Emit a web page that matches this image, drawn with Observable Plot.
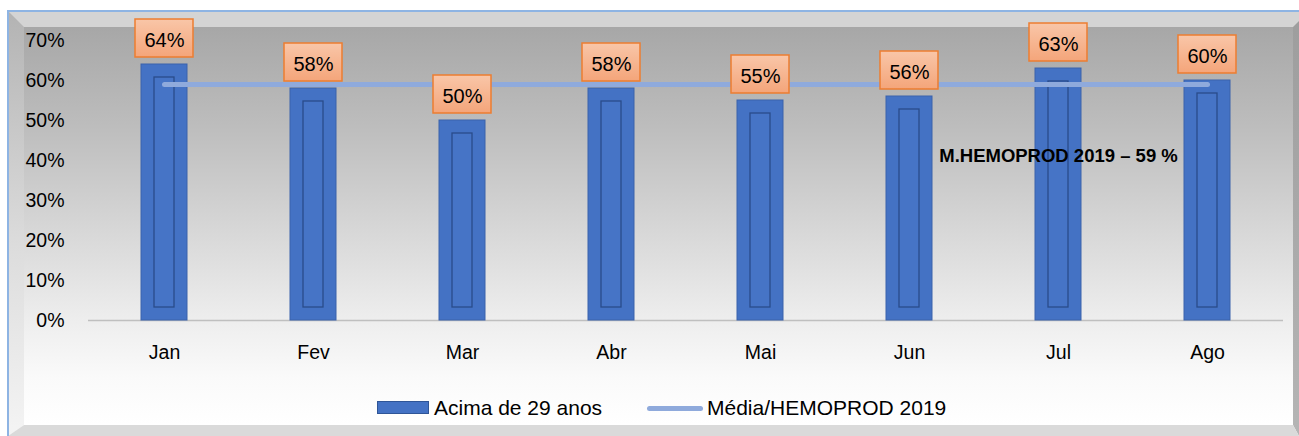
<!DOCTYPE html>
<html>
<head>
<meta charset="utf-8">
<script src="https://cdn.jsdelivr.net/npm/d3@7"></script>
<script src="https://cdn.jsdelivr.net/npm/@observablehq/plot@0.6"></script>
<style>
  html, body { margin: 0; padding: 0; background: #fff; }
  #wrap { position: relative; width: 1299px; height: 436px; overflow: hidden; background: #fff; font-family: "Liberation Sans", Arial, sans-serif; }
  .piece { position: absolute; }
  #chart { position: absolute; left: 0; top: 0; }
  .leg { position: absolute; font-size: 21px; line-height: 24px; color: #000; white-space: nowrap; }
</style>
</head>
<body>
<div id="wrap">
  <!-- decorative 3D walls -->
  <div class="piece" style="left:8px;top:11px;width:1291px;height:16px;background:#d4d4d4;"></div>
  <div class="piece" style="left:24px;top:27px;width:1269px;height:398px;background:linear-gradient(to bottom,#a7a7a7 0%,#bdbdbd 25%,#d6d6d6 50%,#ececec 72%,#fafafa 88%,#ffffff 100%);"></div>
  <div class="piece" style="left:8px;top:11px;width:16px;height:425px;background:linear-gradient(to bottom,#b3b3b3,#dcdcdc 55%,#f4f4f4);clip-path:polygon(0 0,100% 16px,100% 414px,0 100%);"></div>
  <div class="piece" style="left:1293px;top:11px;width:6px;height:425px;background:linear-gradient(to bottom,#9d9d9d,#b5b5b5);clip-path:polygon(0 16px,100% 10px,100% 100%,0 414px);"></div>
  <div class="piece" style="left:8px;top:425px;width:1291px;height:11px;background:#dadada;clip-path:polygon(16px 0,1285px 0,100% 100%,0 100%);"></div>
  <div class="piece" style="left:7px;top:10px;width:1.5px;height:426px;background:#8eb4e3;"></div>
  <div class="piece" style="left:7px;top:10px;width:1292px;height:1.5px;background:#8eb4e3;"></div>

  <div id="chart"></div>

  <div class="piece" style="left:377px;top:401px;width:52px;height:13px;background:#4472c4;box-shadow:inset 0 0 0 1px #2f5597;"></div>
  <div class="leg" style="left:434px;top:396px;" id="leg1"></div>
  <div class="piece" style="left:647px;top:405.5px;width:56px;height:5px;background:#8faadc;border-radius:3px;"></div>
  <div class="leg" style="left:707px;top:396px;" id="leg2"></div>
</div>
<script>
const months = ["Jan", "Fev", "Mar", "Abr", "Mai", "Jun", "Jul", "Ago"];
const values = [0.64, 0.58, 0.50, 0.58, 0.55, 0.56, 0.63, 0.60];
const average = 0.59;
const yTicks = [0, 0.1, 0.2, 0.3, 0.4, 0.5, 0.6, 0.7];
const seriesName = "Acima de 29 anos";
const averageName = "Média/HEMOPROD 2019";
const annotationText = "M.HEMOPROD 2019 – 59 %";
const annotationMonth = "Jul";
const annotationValue = 0.41;

const pct = d3.format(".0%");
const data = months.map((m, i) => ({month: m, value: values[i]}));
const avgData = months.map(m => ({month: m, value: average}));
const annotation = [{month: annotationMonth, value: annotationValue, text: annotationText}];

document.getElementById("leg1").textContent = seriesName;
document.getElementById("leg2").textContent = averageName;

const svg = Plot.plot({
  width: 1299,
  height: 400,
  marginTop: 40,
  marginBottom: 80,
  marginLeft: 88,
  marginRight: 16,
  style: {background: "transparent", fontFamily: "'Liberation Sans', Arial, sans-serif", fontSize: "19.5px", color: "#000"},
  x: {domain: months, paddingInner: 0.69, paddingOuter: 0.345, tickSize: 0, tickPadding: 25, label: null},
  y: {domain: [0, 0.7], ticks: yTicks, tickFormat: pct, tickSize: 0, tickPadding: 24, label: null},
  marks: [
    Plot.ruleY([0], {stroke: "#bfbfbf", strokeWidth: 1.5}),
    Plot.barY(data, {x: "month", y: "value", fill: "#4472c4", stroke: "#3a62ab", strokeWidth: 1}),
    Plot.barY(data, {x: "month", y: "value", insetTop: 13, insetBottom: 13, insetLeft: 13, insetRight: 13, fill: "#4674c6", stroke: "#2a4c8a", strokeWidth: 1.3}),
    Plot.line(avgData, {x: "month", y: "value", stroke: "#8faadc", strokeWidth: 5, strokeLinecap: "round"}),
    Plot.barY(data, {x: "month", y1: "value", y2: "value", insetTop: -45, insetBottom: 7, insetLeft: -6, insetRight: -6, fill: "url(#boxGrad)", stroke: "#ed7d31", strokeWidth: 1.5}),
    Plot.text(data, {x: "month", y: "value", text: d => pct(d.value), dy: -24, fontSize: 20, fill: "#000"}),
    Plot.text(annotation, {x: "month", y: "value", text: "text", fontSize: 18.5, fontWeight: "bold", fill: "#000"})
  ]
});

svg.insertAdjacentHTML("afterbegin",
  '<defs><linearGradient id="boxGrad" x1="0" y1="0" x2="0" y2="1">' +
  '<stop offset="0" stop-color="#f9c6a8"/><stop offset="1" stop-color="#f4a57a"/>' +
  '</linearGradient></defs>');

document.getElementById("chart").appendChild(svg);
</script>
</body>
</html>
